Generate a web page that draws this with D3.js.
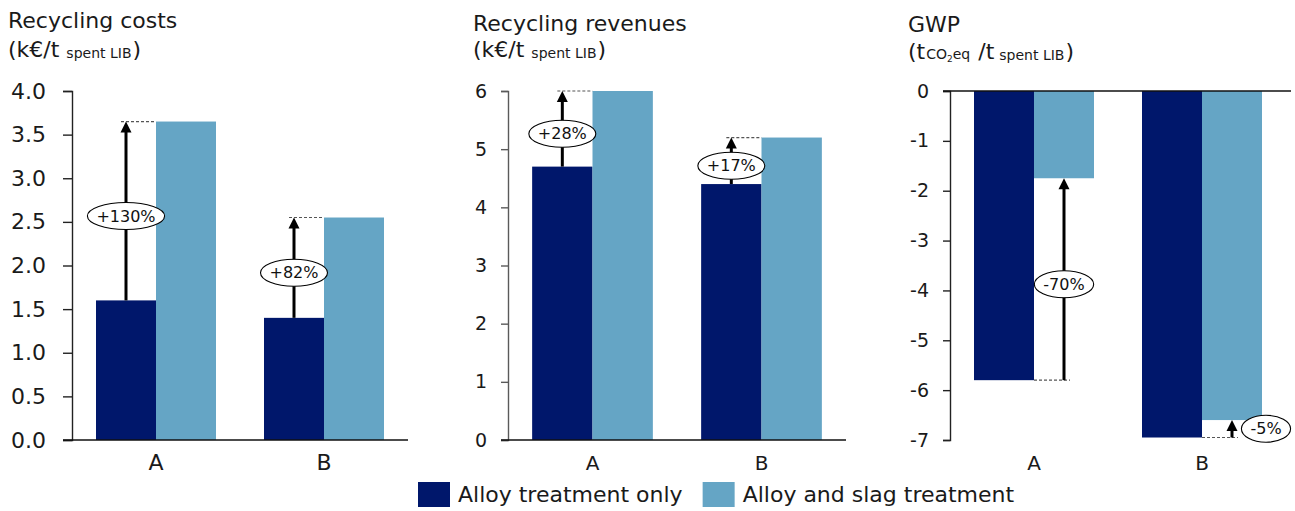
<!DOCTYPE html>
<html>
<head>
<meta charset="utf-8">
<script src="https://cdn.jsdelivr.net/npm/d3@7"></script>
<style>
  body { margin: 0; background: #fff; }
  svg { display: block; font-family: 'Century Gothic', 'DejaVu Sans', sans-serif; }
</style>
</head>
<body>
<svg id="chart" width="1295" height="511"></svg>
<script>
// ---- data ----
const categories = ["A", "B"];
const seriesNames = ["Alloy treatment only", "Alloy and slag treatment"];
const seriesColors = ["#00176b", "#65a5c5"];

const costAlloy = [1.6, 1.4];
const costSlag = [3.65, 2.55];
const costChange = ["+130%", "+82%"];
const costTicks = [0, 0.5, 1, 1.5, 2, 2.5, 3, 3.5, 4];

const revenueAlloy = [4.7, 4.4];
const revenueSlag = [6.0, 5.2];
const revenueChange = ["+28%", "+17%"];
const revenueTicks = [0, 1, 2, 3, 4, 5, 6];

const gwpAlloy = [-5.8, -6.95];
const gwpSlag = [-1.75, -6.6];
const gwpChange = ["-70%", "-5%"];
const gwpTicks = [0, -1, -2, -3, -4, -5, -6, -7];

// ---- layout ----
const svg = d3.select("#chart");
const plotTop = 91, plotBottom = 440;

const panels = [
  {
    left: 72, right: 408, baseEnd: 408,
    domain: [0, 4], ticks: costTicks, format: d3.format(".1f"),
    tickFont: 22, tickSize: 9, tickPad: 17, axisColor: "#222",
    catFont: 22,
    alloy: costAlloy, slag: costSlag, change: costChange, arrowOn: 0,
    title: { x: 8, y: 28, text: "Recycling costs" },
    unit: { x: 8, y: 57, parts: [
      { t: "(k€/t", s: 22 }, { t: "spent LIB", s: 14, dx: 7, dy: 1 }, { t: ")", s: 22, dx: 1, dy: -1 }
    ] }
  },
  {
    left: 508, right: 846, baseEnd: 846,
    domain: [0, 6], ticks: revenueTicks, format: d => String(d),
    tickFont: 19, tickSize: 7, tickPad: 14, axisColor: "#5a5a5a",
    catFont: 20,
    alloy: revenueAlloy, slag: revenueSlag, change: revenueChange, arrowOn: 0,
    title: { x: 473, y: 31, text: "Recycling revenues" },
    unit: { x: 473, y: 57, parts: [
      { t: "(k€/t", s: 22 }, { t: "spent LIB", s: 14, dx: 7, dy: 1 }, { t: ")", s: 22, dx: 1, dy: -1 }
    ] }
  },
  {
    left: 950, right: 1286, baseEnd: 1291,
    domain: [-7, 0], ticks: gwpTicks, format: d => String(d),
    tickFont: 19, tickSize: 7, tickPad: 14, axisColor: "#222",
    catFont: 20,
    alloy: gwpAlloy, slag: gwpSlag, change: gwpChange, arrowOn: 1,
    title: { x: 908, y: 32, text: "GWP" },
    unit: { x: 908, y: 59, parts: [
      { t: "(t", s: 22 }, { t: "CO", s: 14, dx: 1, dy: 0 }, { t: "2", s: 9, dy: 3 },
      { t: "eq", s: 14, dy: -3 }, { t: "/t", s: 22, dx: 8 }, { t: "spent LIB", s: 14, dx: 5, dy: 1 },
      { t: ")", s: 22, dx: 1, dy: -1 }
    ] }
  }
];

function drawPanel(p) {
  const g = svg.append("g");

  const x = d3.scaleBand().domain(categories).range([p.left, p.right])
    .paddingInner(2 / 7).paddingOuter(1 / 7);
  const xs = d3.scaleBand().domain([0, 1]).range([0, x.bandwidth()]);
  const y = d3.scaleLinear().domain(p.domain).range([plotBottom, plotTop]);

  // bars
  categories.forEach((c, i) => {
    [p.alloy[i], p.slag[i]].forEach((v, j) => {
      g.append("rect")
        .attr("x", x(c) + xs(j))
        .attr("width", xs.bandwidth())
        .attr("y", Math.min(y(0), y(v)))
        .attr("height", Math.abs(y(v) - y(0)))
        .attr("fill", seriesColors[j]);
    });
  });

  // value axis
  const ax = g.append("g")
    .attr("transform", `translate(${p.left},0)`)
    .call(d3.axisLeft(y).tickValues(p.ticks).tickFormat(p.format)
      .tickSize(p.tickSize).tickPadding(p.tickPad));
  ax.attr("font-family", null).attr("font-size", p.tickFont);
  ax.select(".domain").attr("stroke", p.axisColor).attr("stroke-width", 1.4);
  ax.selectAll(".tick line").attr("stroke", p.axisColor).attr("stroke-width", 1.4);
  ax.selectAll(".tick text").attr("fill", "#1a1a1a");

  // zero line
  g.append("line")
    .attr("x1", p.left - p.tickSize).attr("x2", p.baseEnd)
    .attr("y1", y(0)).attr("y2", y(0))
    .attr("stroke", "#111").attr("stroke-width", 1.4);

  // category labels
  g.selectAll("text.cat").data(categories).join("text")
    .attr("class", "cat")
    .attr("x", d => x(d) + x.bandwidth() / 2)
    .attr("y", 470)
    .attr("text-anchor", "middle")
    .attr("font-size", p.catFont)
    .attr("fill", "#1a1a1a")
    .text(d => d);

  // change arrows between the two treatments
  categories.forEach((c, i) => {
    const on = p.arrowOn;                 // series whose bar carries the arrow
    const ax0 = x(c) + xs(on) + xs.bandwidth() / 2;
    const yFrom = y(p.alloy[i]);
    const yTo = y(p.slag[i]);
    const guideY = on === 0 ? yTo : yFrom;
    const edge = x(c) + xs(1);
    const dir = yTo < yFrom ? 1 : -1;
    const head = 11;

    g.append("line")
      .attr("x1", on === 0 ? ax0 - 5 : edge)
      .attr("x2", on === 0 ? edge : ax0 + 6)
      .attr("y1", guideY).attr("y2", guideY)
      .attr("stroke", "#555").attr("stroke-width", 1.2)
      .attr("stroke-dasharray", "3,2");

    g.append("line")
      .attr("x1", ax0).attr("x2", ax0)
      .attr("y1", yFrom).attr("y2", yTo + dir * (head - 1))
      .attr("stroke", "#000").attr("stroke-width", 3);

    g.append("path")
      .attr("d", `M${ax0},${yTo} L${ax0 - 5.5},${yTo + dir * head} L${ax0 + 5.5},${yTo + dir * head} Z`)
      .attr("fill", "#000");

    const span = Math.abs(yFrom - yTo);
    const mid = (yFrom + yTo) / 2;
    const lx = span > 40 ? ax0 : ax0 + 34;
    const ly = span > 40 ? mid + 5 : mid;

    const lab = g.append("g").attr("transform", `translate(${lx},${ly})`);
    const ell = lab.append("ellipse").attr("fill", "#fff").attr("stroke", "#000").attr("stroke-width", 1.1);
    const t = lab.append("text")
      .attr("text-anchor", "middle")
      .attr("dy", "0.35em")
      .attr("font-size", 16)
      .attr("fill", "#111")
      .text(p.change[i]);
    const w = t.node().getComputedTextLength();
    ell.attr("rx", w / 2 + 9).attr("ry", 13.5);
  });

  // title and unit
  g.append("text")
    .attr("x", p.title.x).attr("y", p.title.y)
    .attr("font-size", 22).attr("fill", "#1a1a1a")
    .text(p.title.text);

  const u = g.append("text").attr("x", p.unit.x).attr("y", p.unit.y).attr("fill", "#1a1a1a");
  p.unit.parts.forEach(part => {
    u.append("tspan")
      .attr("font-size", part.s)
      .attr("dx", part.dx || 0)
      .attr("dy", part.dy || 0)
      .text(part.t);
  });
}

panels.forEach(drawPanel);

// legend
const legend = svg.append("g");
let lx = 418;
seriesNames.forEach((name, i) => {
  legend.append("rect")
    .attr("x", lx).attr("y", 482).attr("width", 32).attr("height", 25)
    .attr("fill", seriesColors[i]);
  const t = legend.append("text")
    .attr("x", lx + 40).attr("y", 502)
    .attr("font-size", 22).attr("fill", "#1a1a1a")
    .text(name);
  lx = lx + 40 + t.node().getComputedTextLength() + 20;
});
</script>
</body>
</html>
